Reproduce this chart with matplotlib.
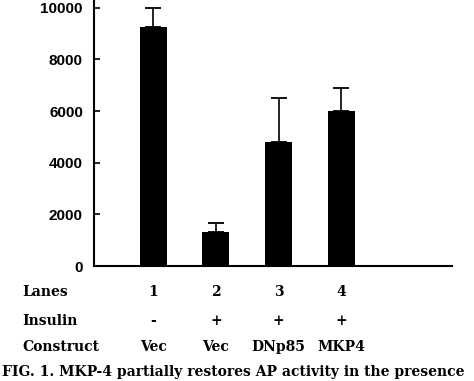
import matplotlib.pyplot as plt

# values
lanes = ["1", "2", "3", "4"]
insulin = ["-", "+", "+", "+"]
construct = ["Vec", "Vec", "DNp85", "MKP4"]
means = [9250, 1300, 4800, 6000]
errors = [750, 370, 1700, 900]
yticks = [0, 2000, 4000, 6000, 8000, 10000]

fig = plt.figure(figsize=(4.74, 3.81), dpi=100)
ax = fig.add_axes([94 / 474, 1 - 266 / 381, (452 - 94) / 474, 266 / 381])

x = [1, 2, 3, 4]
ax.bar(x, means, width=0.43, color="black")
ax.errorbar(x, means, yerr=[[0] * 4, errors], fmt="none", ecolor="black",
            elinewidth=1.2, capsize=5.5, capthick=1.3)

ax.set_xlim(0.06, 5.76)
ax.set_ylim(0, 10300)
ax.set_yticks(yticks)
ax.set_yticklabels([str(v) for v in yticks], fontfamily="Liberation Sans",
                   fontweight="bold", fontsize=11)
ax.tick_params(axis="y", direction="in", length=4, width=1.2, pad=8)
ax.set_xticks([])
for s in ["top", "right"]:
    ax.spines[s].set_visible(False)
for s in ["left", "bottom"]:
    ax.spines[s].set_linewidth(1.5)

# table of lane conditions below the axis
font = dict(family="DejaVu Serif", weight="bold", fontsize=10)
rows = [("Lanes", lanes, 292), ("Insulin", insulin, 321), ("Construct", construct, 347)]
for name, vals, ypix in rows:
    yy = 1 - ypix / 381
    fig.text(22 / 474, yy, name, ha="left", va="center", **font)
    for xi, v in zip(x, vals):
        xd = ax.transData.transform((xi, 0))[0]
        xf = fig.transFigure.inverted().transform((xd, 0))[0]
        fig.text(xf, yy, v, ha="center", va="center", **font)

fig.text(0.004, 1 - 372 / 381, "FIG. 1. MKP-4 partially restores AP activity in the presence",
         ha="left", va="center", family="DejaVu Serif", weight="bold", fontsize=10)

fig.savefig("out.png", dpi=100)
